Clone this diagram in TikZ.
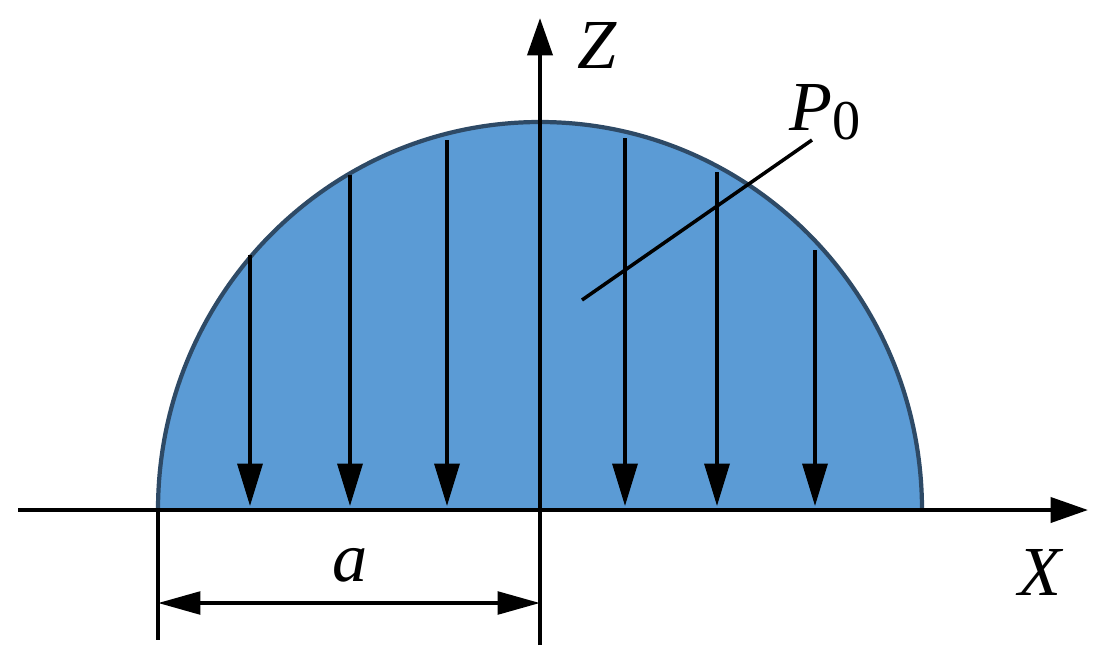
\documentclass[tikz,border=0pt]{standalone}
\usepackage{fontspec}
\setmainfont{Liberation Serif}
\usetikzlibrary{arrows.meta}
\begin{document}
\begin{tikzpicture}[x=0.02cm,y=-0.02cm,
  ax/.style={line width=2.4pt},
  big/.style={-{Triangle[length=0.85cm,width=0.5cm]},line width=2pt},
  lab/.style={font=\itshape\fontsize{40}{40}\selectfont}]
\useasboundingbox (0,0) rectangle (1112,667);
\definecolor{fillb}{HTML}{5B9BD5}
\definecolor{edgeb}{HTML}{2E4A66}
\fill[fillb] (158,510) arc[start angle=180,end angle=0,x radius=382,y radius=-388] -- cycle;
\draw[edgeb,line width=2.4pt] (158,510) arc[start angle=180,end angle=0,x radius=382,y radius=-388];
\coordinate (xl) at (18,510); \coordinate (xr) at (1088,510);
\coordinate (zb) at (540,645); \coordinate (zt) at (540,18);
\draw[ax,-{Triangle[length=0.75cm,width=0.5cm]}] (xl) -- (xr);
\draw[ax,-{Triangle[length=0.75cm,width=0.5cm]}] (zb) -- (zt);
\node[lab] (Z) at (597,45) {Z};
\node[lab] (X) at (1040,572) {X};
\foreach \x/\t in {250/255,350/175,447/140,625/138,717/172,815/250}
  \draw[big] (\x,\t) -- (\x,506);
\coordinate (d1) at (158,510); \coordinate (d2) at (158,640);
\draw[ax] (d1) -- (d2);
\coordinate (a1) at (158,603); \coordinate (a2) at (540,603);
\draw[line width=2.4pt,{Triangle[length=0.85cm,width=0.45cm]}-{Triangle[length=0.85cm,width=0.45cm]}] (a1) -- (a2);
\node[lab] (a) at (350,565) {a};
\node[lab] (P) at (825,112) {P\textup{\fontsize{32}{32}\selectfont\raisebox{-5pt}{0}}};
\coordinate (p1) at (582,300); \coordinate (p2) at (812,140);
\draw[line width=2pt] (p1) -- (p2);
\end{tikzpicture}
\end{document}
